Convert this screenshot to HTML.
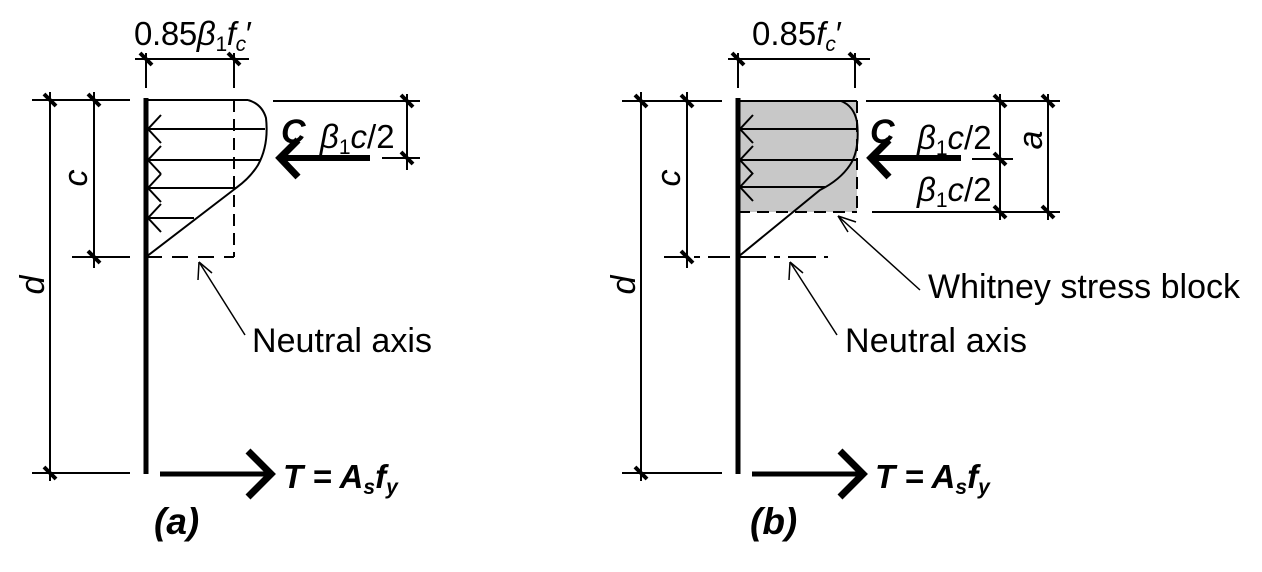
<!DOCTYPE html>
<html><head><meta charset="utf-8"><style>
html,body{margin:0;padding:0;background:#fff;}
svg{display:block;}
text{font-family:"Liberation Sans",Arial,sans-serif;fill:#000;}
</style></head><body>
<svg width="1262" height="572" viewBox="0 0 1262 572" xmlns="http://www.w3.org/2000/svg">
<g stroke="#000" fill="none" stroke-width="2">
<line x1="32" y1="100" x2="130" y2="100"/>
<line x1="72" y1="257" x2="130" y2="257"/>
<line x1="32" y1="473" x2="130" y2="473"/>
<line x1="50" y1="92" x2="50" y2="481"/>
<line x1="94" y1="92" x2="94" y2="268"/>
<line x1="135" y1="59" x2="249" y2="59"/>
<line x1="146" y1="53" x2="146" y2="88"/>
<line x1="234" y1="53" x2="234" y2="88"/>
<line x1="146" y1="100" x2="248" y2="100"/>
<path d="M248 100 Q262 104 266 118 Q269 145 258 165 Q250 178 236 188 L146 257"/>
<line x1="234" y1="100" x2="234" y2="257" stroke-dasharray="12,7"/>
<line x1="146" y1="257" x2="234" y2="257" stroke-dasharray="16,10"/>
<line x1="146" y1="129" x2="265" y2="129"/>
<line x1="146" y1="160" x2="260" y2="160"/>
<line x1="146" y1="188" x2="236" y2="188"/>
<line x1="146" y1="218" x2="194" y2="218"/>
<path d="M161 115 L148 129 L161 143 M161 146 L148 160 L161 174 M161 174 L148 188 L161 202 M161 204 L148 218 L161 232"/>
<line x1="273" y1="101" x2="420" y2="101"/>
<line x1="382" y1="158" x2="420" y2="158"/>
<line x1="407" y1="94" x2="407" y2="170"/>
<line x1="199" y1="262" x2="245" y2="335" stroke-width="1.5"/>
<path d="M199 262 L198 280 M199 262 L212 273" stroke-width="1.5"/>
<rect x="738" y="101" width="119" height="111" fill="#c8c8c8" stroke="none"/>
<line x1="622" y1="101" x2="722" y2="101"/>
<line x1="664" y1="257" x2="738" y2="257" stroke-dasharray="22,8,6,8"/>
<line x1="738" y1="257" x2="828" y2="257" stroke-dasharray="28,8,6,8"/>
<line x1="622" y1="473" x2="722" y2="473"/>
<line x1="641" y1="92" x2="641" y2="481"/>
<line x1="687" y1="92" x2="687" y2="268"/>
<line x1="728" y1="59" x2="870" y2="59"/>
<line x1="738" y1="53" x2="738" y2="88"/>
<line x1="855" y1="53" x2="855" y2="88"/>
<line x1="738" y1="101" x2="857" y2="101"/>
<line x1="857" y1="101" x2="857" y2="212" stroke-dasharray="12,7"/>
<line x1="738" y1="212" x2="857" y2="212" stroke-dasharray="12,7"/>
<path d="M841 101 Q854 106 857 122 Q860 150 850 165 Q840 180 820 190 L738 257"/>
<line x1="738" y1="129" x2="857" y2="129"/>
<line x1="738" y1="160" x2="856" y2="160"/>
<line x1="738" y1="187" x2="825" y2="187"/>
<path d="M753 115 L740 129 L753 143 M753 146 L740 160 L753 174 M753 173 L740 187 L753 201"/>
<line x1="866" y1="101" x2="1060" y2="101"/>
<line x1="972" y1="159" x2="1013" y2="159"/>
<line x1="872" y1="212" x2="1060" y2="212"/>
<line x1="1000" y1="94" x2="1000" y2="220"/>
<line x1="1048" y1="94" x2="1048" y2="220"/>
<line x1="838" y1="216" x2="920" y2="290" stroke-width="1.5"/>
<path d="M838 216 L848 232 M838 216 L856 222" stroke-width="1.5"/>
<line x1="790" y1="262" x2="837" y2="335" stroke-width="1.5"/>
<path d="M790 262 L789 280 M790 262 L803 273" stroke-width="1.5"/>
</g>
<g stroke="#000" fill="none">
<line x1="146" y1="98" x2="146" y2="474" stroke-width="5"/>
<line x1="738" y1="98" x2="738" y2="474" stroke-width="5"/>
<line x1="284" y1="158" x2="370" y2="158" stroke-width="6"/>
<path d="M298 140 L280 158 L298 177" stroke-width="7"/>
<line x1="875" y1="158" x2="961" y2="158" stroke-width="6"/>
<path d="M889 140 L871 158 L889 177" stroke-width="7"/>
<line x1="160" y1="474" x2="268" y2="474" stroke-width="5"/>
<path d="M248 451 L271 474 L248 497" stroke-width="7"/>
<line x1="752" y1="474" x2="860" y2="474" stroke-width="5"/>
<path d="M840 451 L863 474 L840 497" stroke-width="7"/>
</g>
<g stroke="#000" stroke-width="4">
<path d="M44 94 L56 106 M88 94 L100 106 M88 251 L100 263 M44 467 L56 479 M140 53 L152 65 M228 53 L240 65 M401 95 L413 107 M401 152 L413 164"/>
<path d="M635 95 L647 107 M681 95 L693 107 M681 251 L693 263 M635 467 L647 479 M732 53 L744 65 M849 53 L861 65 M994 95 L1006 107 M994 153 L1006 165 M994 206 L1006 218 M1042 95 L1054 107 M1042 206 L1054 218"/>
</g>
<text x="134" y="45" font-size="33" textLength="118">0.85<tspan font-style="italic">β</tspan><tspan font-size="21" dy="6">1</tspan><tspan font-style="italic" dy="-6">f</tspan><tspan font-style="italic" font-size="21" dy="6">c</tspan><tspan dy="-6">′</tspan></text>
<text x="752" y="45" font-size="33">0.85<tspan font-style="italic">f</tspan><tspan font-style="italic" font-size="21" dy="6">c</tspan><tspan dy="-6">′</tspan></text>
<text x="281" y="143" font-size="34" font-weight="bold" font-style="italic">C</text>
<text x="870" y="143" font-size="34" font-weight="bold" font-style="italic">C</text>
<text x="320" y="148" font-size="33"><tspan font-style="italic">β</tspan><tspan font-size="21" dy="6">1</tspan><tspan font-style="italic" dy="-6">c</tspan>/2</text>
<text x="917" y="149" font-size="33"><tspan font-style="italic">β</tspan><tspan font-size="21" dy="6">1</tspan><tspan font-style="italic" dy="-6">c</tspan>/2</text>
<text x="917" y="201" font-size="33"><tspan font-style="italic">β</tspan><tspan font-size="21" dy="6">1</tspan><tspan font-style="italic" dy="-6">c</tspan>/2</text>
<text transform="translate(1042,140) rotate(-90)" font-size="34" font-style="italic" text-anchor="middle">a</text>
<text transform="translate(87,178) rotate(-90)" font-size="34" font-style="italic" text-anchor="middle">c</text>
<text transform="translate(680,178) rotate(-90)" font-size="34" font-style="italic" text-anchor="middle">c</text>
<text transform="translate(44,285) rotate(-90)" font-size="34" font-style="italic" text-anchor="middle">d</text>
<text transform="translate(635,285) rotate(-90)" font-size="34" font-style="italic" text-anchor="middle">d</text>
<text x="252" y="352" font-size="34" textLength="180">Neutral axis</text>
<text x="845" y="352" font-size="34" textLength="182">Neutral axis</text>
<text x="928" y="298" font-size="34" textLength="312">Whitney stress block</text>
<text x="283" y="488" font-size="33" font-weight="bold" font-style="italic">T = A<tspan font-size="21" dy="6">s</tspan><tspan dy="-6">f</tspan><tspan font-size="21" dy="6">y</tspan></text>
<text x="875" y="488" font-size="33" font-weight="bold" font-style="italic">T = A<tspan font-size="21" dy="6">s</tspan><tspan dy="-6">f</tspan><tspan font-size="21" dy="6">y</tspan></text>
<text x="154" y="534" font-size="37" font-weight="bold" font-style="italic">(a)</text>
<text x="750" y="534" font-size="37" font-weight="bold" font-style="italic">(b)</text>
</svg>
</body></html>
